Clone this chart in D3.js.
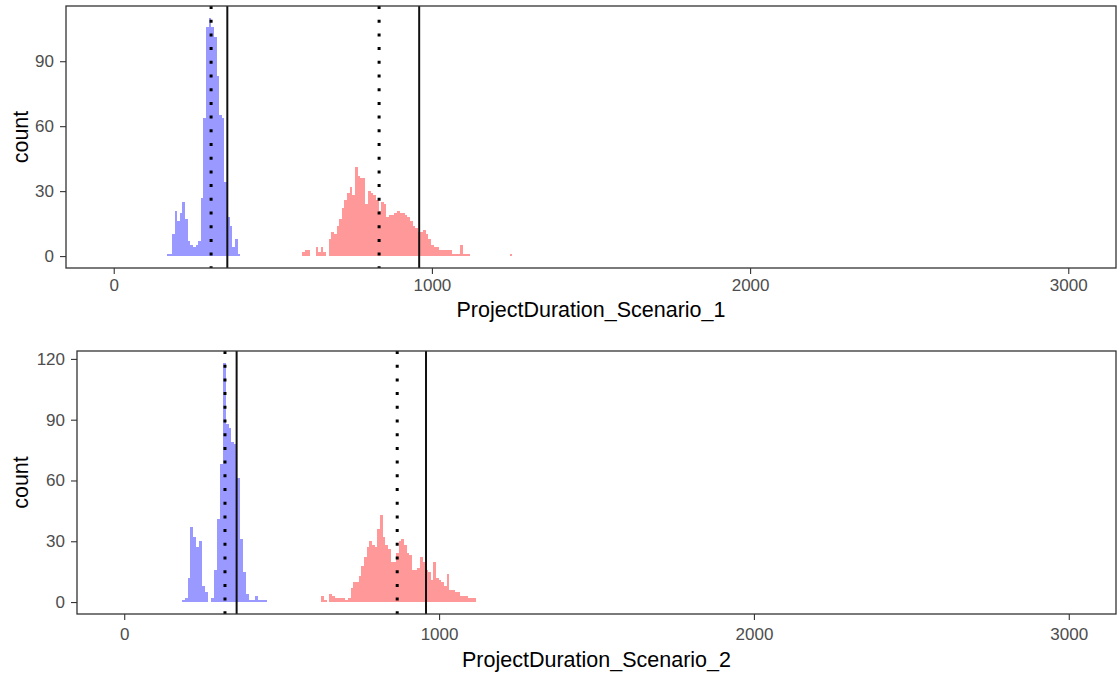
<!DOCTYPE html>
<html>
<head>
<meta charset="utf-8">
<script src="https://cdn.jsdelivr.net/npm/d3@7"></script>
<style>
  body { margin: 0; background: #fff; }
  svg { display: block; }
</style>
</head>
<body>
<svg id="chart" width="1118" height="676"></svg>
<script>
// Shared x axis
const xLimits = [0, 3000];
const xTicks = [0, 1000, 2000, 3000];

// Scenario 1: histogram counts per bin
const s1BlueStart = 166.6;
const s1BlueBinWidth = 8.25;
const s1BlueCounts = [1, 1, 10, 21, 16, 20, 25, 17, 7, 5, 4, 5, 7, 27, 64, 106, 110, 106, 101, 83, 65, 64, 34, 18, 14, 4, 8, 1];
const s1RedStart = 593;
const s1RedBinWidth = 8.25;
const s1RedCounts = [
  2, 3, 3, 0, 0, 4, 2, 4, 2, 0,
  8, 11, 10, 14, 17, 22, 26, 29, 32, 28,
  41, 37, 36, 36, 24, 30, 29, 28, 26, 21,
  25, 24, 18, 19, 19, 20, 21, 20, 20, 19,
  18, 16, 14, 13, 11, 11, 12, 10, 8, 5,
  4, 4, 3, 3, 3, 3, 3, 1, 1, 1,
  5, 1, 1, 1, 0, 0, 0, 0, 0, 0,
  0, 0, 0, 0, 0, 0, 0, 0, 0, 1
];
const s1SolidLines = [357, 960];
const s1DottedLines = [306, 834];
const s1YTicks = [0, 30, 60, 90];

// Scenario 2: histogram counts per bin
const s2BlueStart = 182.5;
const s2BlueBinWidth = 9.3;
const s2BlueCounts = [1, 2, 12, 37, 32, 27, 30, 8, 5, 0, 2, 16, 41, 68, 118, 88, 86, 79, 78, 61, 31, 15, 4, 1, 1, 3, 1, 1, 1];
const s2RedStart = 626;
const s2RedBinWidth = 8.47;
const s2RedCounts = [
  3, 1, 0, 4, 3, 2, 2, 2, 2, 1,
  2, 7, 10, 10, 13, 18, 22, 27, 30, 28,
  27, 36, 43, 32, 28, 26, 20, 20, 24, 30,
  31, 28, 24, 23, 16, 16, 17, 22, 20, 16,
  15, 11, 20, 12, 11, 10, 8, 14, 6, 6,
  5, 5, 3, 3, 3, 2, 2, 2
];
const s2SolidLines = [357, 958.5];
const s2DottedLines = [320, 867];
const s2YTicks = [0, 30, 60, 90, 120];

const FONT = "'Liberation Sans', Arial, Helvetica, sans-serif";
const BLUE = "#9999ff";
const RED = "#ff9999";

function toBins(start, width, counts) {
  return counts.map((n, i) => ({ x0: start + i * width, x1: start + (i + 1) * width, n }));
}

const panels = [
  {
    box: { left: 66, top: 6, right: 1116, bottom: 268 },
    series: [
      { bins: toBins(s1BlueStart, s1BlueBinWidth, s1BlueCounts), color: BLUE },
      { bins: toBins(s1RedStart, s1RedBinWidth, s1RedCounts), color: RED }
    ],
    solid: s1SolidLines, dotted: s1DottedLines, yTicks: s1YTicks,
    xPad: 5, titleY: 317, title: "ProjectDuration_Scenario_1"
  },
  {
    box: { left: 77, top: 351, right: 1116, bottom: 614 },
    series: [
      { bins: toBins(s2BlueStart, s2BlueBinWidth, s2BlueCounts), color: BLUE },
      { bins: toBins(s2RedStart, s2RedBinWidth, s2RedCounts), color: RED }
    ],
    solid: s2SolidLines, dotted: s2DottedLines, yTicks: s2YTicks,
    xPad: 8, titleY: 667, title: "ProjectDuration_Scenario_2"
  }
];

const svg = d3.select("#chart");

panels.forEach(p => {
  const b = p.box;
  // 5% expansion on each side, like ggplot's continuous scales
  const xr = xLimits[1] - xLimits[0];
  const x = d3.scaleLinear()
    .domain([xLimits[0] - 0.05 * xr, xLimits[1] + 0.05 * xr])
    .range([b.left, b.right]);
  const maxCount = d3.max(p.series, s => d3.max(s.bins, d => d.n));
  const y = d3.scaleLinear()
    .domain([-0.05 * maxCount, 1.05 * maxCount])
    .range([b.bottom, b.top]);

  const g = svg.append("g");

  // histogram bars
  p.series.forEach(s => {
    g.append("g")
      .attr("shape-rendering", "crispEdges")
      .selectAll("rect")
      .data(s.bins.filter(d => d.n > 0))
      .join("rect")
      .attr("x", d => x(d.x0))
      .attr("width", d => x(d.x1) - x(d.x0))
      .attr("y", d => y(d.n))
      .attr("height", d => y(0) - y(d.n))
      .attr("fill", s.color);
  });

  // vertical reference lines
  g.append("g").selectAll("line")
    .data(p.dotted)
    .join("line")
    .attr("x1", d => x(d)).attr("x2", d => x(d))
    .attr("y1", b.top).attr("y2", b.bottom)
    .attr("stroke", "#000")
    .attr("stroke-width", 3)
    .attr("stroke-dasharray", "3,10.7");

  g.append("g").selectAll("line")
    .data(p.solid)
    .join("line")
    .attr("x1", d => x(d)).attr("x2", d => x(d))
    .attr("y1", b.top).attr("y2", b.bottom)
    .attr("stroke", "#111")
    .attr("stroke-width", 2);

  // panel border
  g.append("rect")
    .attr("x", b.left).attr("y", b.top)
    .attr("width", b.right - b.left).attr("height", b.bottom - b.top)
    .attr("fill", "none")
    .attr("stroke", "#333")
    .attr("stroke-width", 1.3);

  // axes
  const yAxis = g.append("g")
    .attr("transform", `translate(${b.left},0)`)
    .call(d3.axisLeft(y).tickValues(p.yTicks).tickFormat(d3.format("d")).tickSize(6).tickPadding(6));
  const xAxis = g.append("g")
    .attr("transform", `translate(0,${b.bottom})`)
    .call(d3.axisBottom(x).tickValues(xTicks).tickFormat(d3.format("d")).tickSize(6).tickPadding(p.xPad));

  [yAxis, xAxis].forEach(a => {
    a.select(".domain").remove();
    a.selectAll(".tick line").attr("stroke", "#333").attr("stroke-width", 1.1);
    a.selectAll(".tick text")
      .attr("fill", "#4d4d4d")
      .style("font-family", FONT)
      .style("font-size", "17px");
  });

  // axis titles
  g.append("text")
    .attr("x", (b.left + b.right) / 2)
    .attr("y", p.titleY)
    .attr("text-anchor", "middle")
    .style("font-family", FONT)
    .style("font-size", "21.5px")
    .attr("fill", "#000")
    .text(p.title);

  g.append("text")
    .attr("transform", `translate(28,${(b.top + b.bottom) / 2}) rotate(-90)`)
    .attr("text-anchor", "middle")
    .style("font-family", FONT)
    .style("font-size", "21.5px")
    .attr("fill", "#000")
    .text("count");
});
</script>
</body>
</html>
